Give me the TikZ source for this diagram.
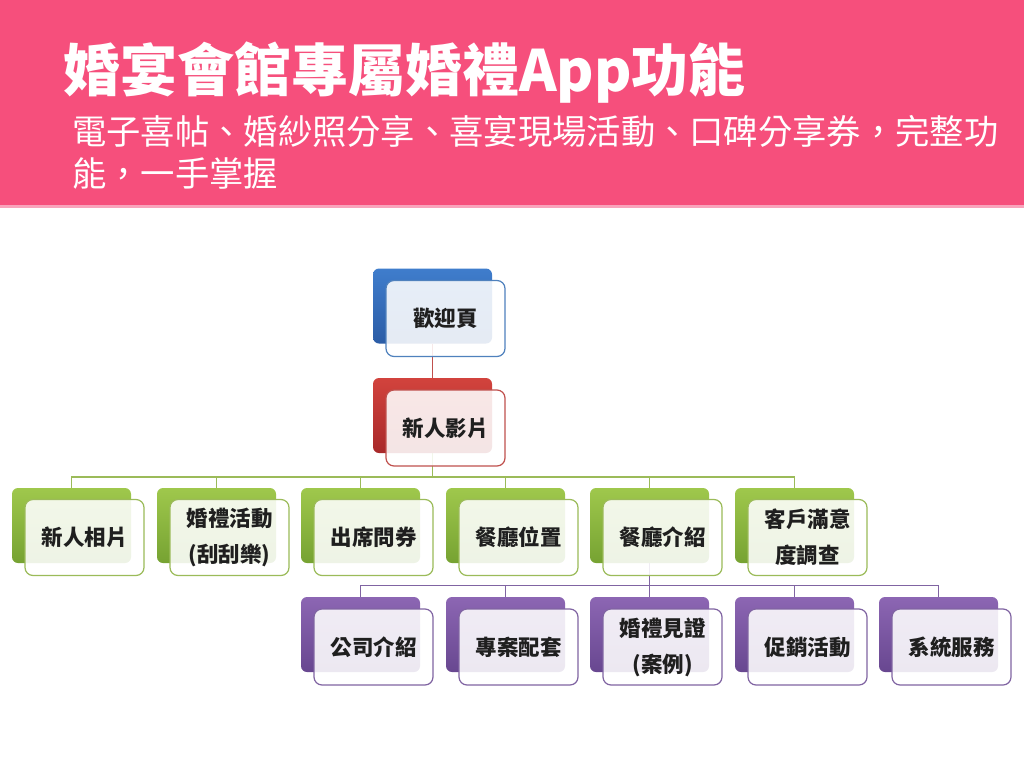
\documentclass[tikz,border=0pt]{standalone}
\usepackage{fontspec}
\newfontfamily\cjk{Noto Sans CJK TC}
\usetikzlibrary{backgrounds}
\pgfdeclarelayer{canvas}
\pgfsetlayers{canvas,background,main}
\definecolor{headpink}{HTML}{F64F7C}
\definecolor{headline}{HTML}{F9A3BB}
\definecolor{cblue}{HTML}{4F81BD}
\definecolor{cred}{HTML}{C0504D}
\definecolor{cgreen}{HTML}{9BBB59}
\definecolor{cpurple}{HTML}{8064A2}
\definecolor{blueT}{HTML}{3F7DCC}\definecolor{blueB}{HTML}{2B5CA6}
\definecolor{redT}{HTML}{D2433D}\definecolor{redB}{HTML}{A8292A}
\definecolor{greenT}{HTML}{9FC84C}\definecolor{greenB}{HTML}{76A232}
\definecolor{purpleT}{HTML}{8C66B3}\definecolor{purpleB}{HTML}{684790}
\tikzset{
  backbox/.style={rectangle, rounded corners=6pt, minimum width=119pt, minimum height=75pt, inner sep=0pt},
  bluebk/.style={backbox, top color=blueT, bottom color=blueB},
  redbk/.style={backbox, top color=redT, bottom color=redB},
  greenbk/.style={backbox, top color=greenT, bottom color=greenB},
  purplebk/.style={backbox, top color=purpleT, bottom color=purpleB},
  frontbox/.style={rectangle, rounded corners=8pt, minimum width=119pt, minimum height=76pt, inner sep=2pt,
    fill=white, fill opacity=0.88, text opacity=1, line width=1.2pt, align=center, text=black!88,
    font=\cjk\bfseries\fontsize{21.5}{36}\selectfont},
  link/.style={line width=1.3pt},
}
\begin{document}
\begin{tikzpicture}[x=1pt,y=-1pt]
\useasboundingbox (0,0) rectangle (1024,768);
\begin{pgfonlayer}{canvas}
\fill[white] (0,0) rectangle (1024,768);
\fill[headpink] (0,0) rectangle (1024,206);
\fill[headline] (0,205) rectangle (1024,208);
\end{pgfonlayer}
\node[anchor=base west, inner sep=0pt, text=white, font=\cjk\bfseries\fontsize{57}{60}\selectfont] (title) at (63,91) {婚宴會館專屬婚禮App功能};
\node[anchor=north west, inner sep=0pt, text=white, align=left, font=\cjk\fontsize{34.3}{42}\selectfont] (sub) at (72,115)
  {電子喜帖、婚紗照分享、喜宴現場活動、口碑分享券，完整功\\能，一手掌握};
% level 0 and 1
\node[bluebk] (b0) at (432.5,306) {};
\node[frontbox, draw=cblue] (f0) at (445.5,318.5) {歡迎頁};
\node[redbk] (b1) at (432.5,415.5) {};
\node[frontbox, draw=cred] (f1) at (445.5,428) {新人影片};
% level 2
\foreach \i/\x in {1/71.5,2/216.5,3/360.5,4/505.5,5/649.5,6/794.5}{
  \node[greenbk] (g\i) at (\x,525.5) {};
}
\node[frontbox, draw=cgreen] (h1) at (84.5,537.5) {新人相片};
\node[frontbox, draw=cgreen] (h2) at (229.5,537.5) {婚禮活動\\(刮刮樂)};
\node[frontbox, draw=cgreen] (h3) at (373.5,537.5) {出席問券};
\node[frontbox, draw=cgreen] (h4) at (518.5,537.5) {餐廳位置};
\node[frontbox, draw=cgreen] (h5) at (662.5,537.5) {餐廳介紹};
\node[frontbox, draw=cgreen] (h6) at (807.5,537.5) {客戶滿意\\度調查};
% level 3
\foreach \i/\x in {1/360.5,2/505.5,3/649.5,4/794.5,5/938.5}{
  \node[purplebk] (p\i) at (\x,634.5) {};
}
\node[frontbox, draw=cpurple] (q1) at (373.5,647) {公司介紹};
\node[frontbox, draw=cpurple] (q2) at (518.5,647) {專案配套};
\node[frontbox, draw=cpurple] (q3) at (662.5,647) {婚禮見證\\(案例)};
\node[frontbox, draw=cpurple] (q4) at (807.5,647) {促銷活動};
\node[frontbox, draw=cpurple] (q5) at (951.5,647) {系統服務};
% connectors
\coordinate (bus2) at (432.5,477);
\coordinate (bus3) at (649.5,585.5);
\begin{pgfonlayer}{background}
\draw[link, cred] (b0.south) -- (b1.north);
\foreach \i in {1,...,6}{\draw[link, cgreen] (b1.south) -- (bus2) -| (g\i.north);}
\foreach \i in {1,...,5}{\draw[link, cpurple] (g5.south) -- (bus3) -| (p\i.north);}
\end{pgfonlayer}
\end{tikzpicture}
\end{document}
